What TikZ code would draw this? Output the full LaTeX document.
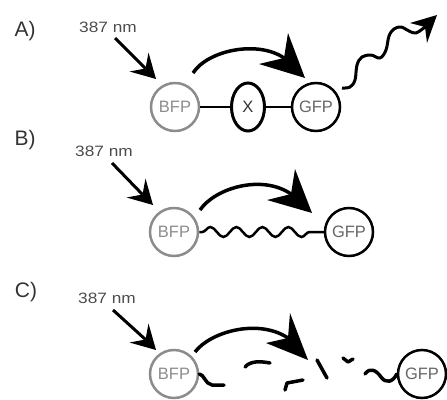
\documentclass[tikz,border=0pt]{standalone}
\usepackage{fontspec}
\setmainfont{Liberation Sans}
\newfontfamily\tagfont[FakeStretch=1.15]{Liberation Sans}
\usetikzlibrary{decorations.pathmorphing,shapes.geometric}

% filled barbed head: tip, first barb, notch, second barb
\newcommand\headpoly[4]{\fill[head] (#1) -- (#2) -- (#3) -- (#4) -- cycle;}
% small excitation head pointing down-right at a named tip
\newcommand\smallhead[1]{\fill[head] (#1) -- ([shift={(-7.5,-26.5)}]#1)
  -- ([shift={(-10.5,-10.5)}]#1) -- ([shift={(-26.5,-7.5)}]#1) -- cycle;}

\begin{document}
\begin{tikzpicture}[x=1pt,y=-1pt,
  panel/.style={font=\fontsize{21}{21}\selectfont, text=black!80, inner sep=0},
  wavelen/.style={font=\tagfont\fontsize{15}{15}\selectfont, text=black!70, inner sep=0},
  prot/.style={circle, draw, line width=2.5pt, minimum size=48pt, inner sep=0,
    font=\fontsize{16.5}{16.5}\selectfont},
  bfp/.style={prot, draw=black!45, text=black!45},
  gfp/.style={prot, draw=black, text=black!60},
  linker/.style={ellipse, draw, line width=3pt, minimum width=33pt, minimum height=48pt,
    inner sep=0, font=\fontsize{16.5}{16.5}\selectfont, text=black!80},
  head/.style={fill=black},
  excite/.style={line width=3pt},
  xfer/.style={line width=3.5pt},
  emit/.style={line width=3pt, line join=round},
  link/.style={line width=2.5pt},
  frag/.style={line width=3.5pt, line cap=round, line join=round},
]
\useasboundingbox (0,0) rectangle (447,399);

% ---------- A) intact linker ----------
\node[panel] (tA) at (25,31) {A)};
\node[wavelen] (nmA) at (108,27) {387 nm};
\node[bfp] (bfpA) at (175,107) {BFP};
\node[linker] (xA) at (248,107) {X};
\node[gfp] (gfpA) at (316,107) {GFP};
\draw[link] (bfpA) -- (xA);
\draw[link] (xA) -- (gfpA);
\coordinate (tipA) at ([shift={(-19,-28)}]bfpA.center);
\draw[excite] ([shift={(7,11)}]nmA.center) -- ([shift={(-10.5,-10.5)}]tipA);
\smallhead{tipA}
\coordinate (xtipA) at ([shift={(-11,-29)}]gfpA.center);
\draw[xfer] ([shift={(18,-34)}]bfpA.center)
  .. controls (208,50) and (258,40) .. (284,58);
\headpoly{xtipA}{288,33}{284,58}{259,64}
\draw[emit] plot[smooth, tension=0.6] coordinates {
  ([shift={(26,-19)}]gfpA.center) (350,87) (355,80) (357,65) (362,57) (371,55)
  (380,58) (386,50) (389,36) (394,29) (401,27) (409,31) (416,33) (425,27)};
\headpoly{437,15}{410,23}{425,27}{427,43}

% ---------- B) flexible linker ----------
\node[panel] (tB) at (25,140) {B)};
\node[wavelen] (nmB) at (104,151) {387 nm};
\node[bfp] (bfpB) at (174,232) {BFP};
\node[gfp] (gfpB) at (349,232) {GFP};
\draw[link, decorate, decoration={snake, segment length=26pt, amplitude=5pt,
  pre length=3pt, post length=10pt}] (bfpB) -- (gfpB);
\coordinate (tipB) at ([shift={(-21,-27)}]bfpB.center);
\draw[excite] ([shift={(8,12)}]nmB.center) -- ([shift={(-10.5,-10.5)}]tipB);
\smallhead{tipB}
\coordinate (xtipB) at ([shift={(-37,-19)}]gfpB.center);
\draw[xfer] ([shift={(26,-22)}]bfpB.center)
  .. controls (215,188) and (262,174) .. (291,194);
\headpoly{xtipB}{295,169}{291,194}{267,200}

% ---------- C) cleaved linker ----------
\node[panel] (tC) at (26,292) {C)};
\node[wavelen] (nmC) at (107,298) {387 nm};
\node[bfp] (bfpC) at (174,374) {BFP};
\node[gfp] (gfpC) at (422,374) {GFP};
\coordinate (tipC) at ([shift={(-18,-24)}]bfpC.center);
\draw[excite] ([shift={(6,12)}]nmC.center) -- ([shift={(-10.5,-10.5)}]tipC);
\smallhead{tipC}
\coordinate (xtipC) at (308,360);
\draw[xfer] ([shift={(21,-22)}]bfpC.center)
  .. controls (210,332) and (258,318) .. (288,338);
\headpoly{xtipC}{290,313}{288,338}{266,343}
% linker fragments
\draw[frag] (bfpC.east) .. controls (204,374) and (205,384) .. (212,385) -- (224,385);
\draw[frag] (245,367) .. controls (250,361) and (260,361) .. (270,363);
\draw[frag] (285,390) -- (287,383) -- (303,380);
\draw[frag] (317,360) -- (327,378);
\draw[frag] (343,358) -- (348,362) -- (353,359);
\draw[frag] (365,374) .. controls (370,367) and (376,370) .. (381,377)
  .. controls (386,384) and (393,382) .. (gfpC.west);
\end{tikzpicture}
\end{document}
